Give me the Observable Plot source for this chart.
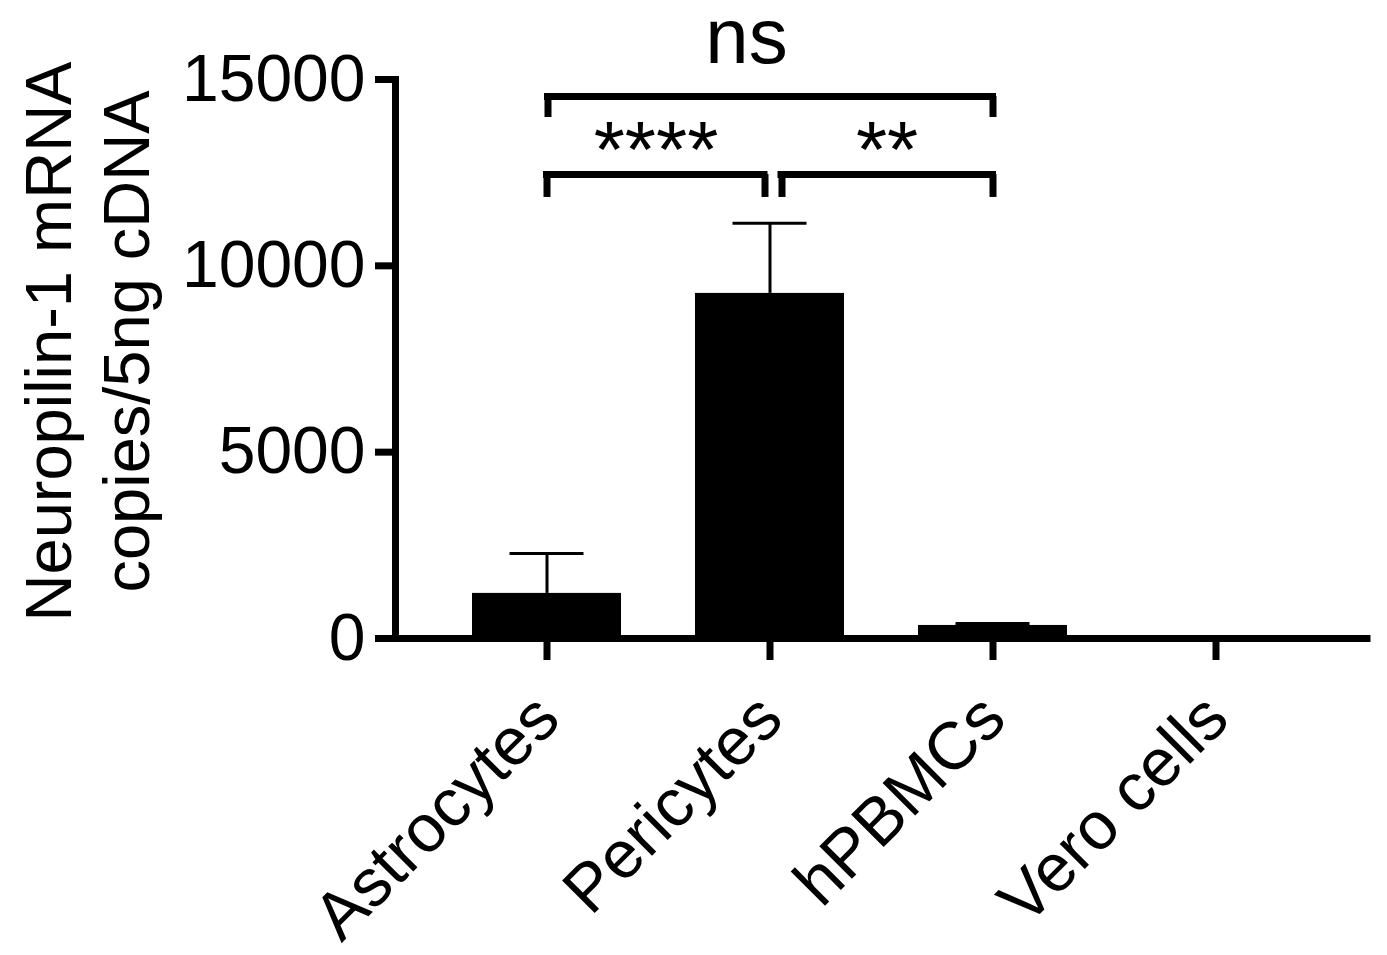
<!DOCTYPE html>
<html><head><meta charset="utf-8">
<script src="https://cdn.jsdelivr.net/npm/d3@7"></script>
<script src="https://cdn.jsdelivr.net/npm/@observablehq/plot@0.6"></script>
<style>
html,body{margin:0;padding:0;background:#fff;}
</style></head><body><div id="chart"></div>
<script>
// ---- data ----
const categories = ["Astrocytes", "Pericytes", "hPBMCs", "Vero cells"];
const means = [1210, 9260, 350, 0];
const errors = [1070, 1880, 50, 0];
const yTicks = [0, 5000, 10000, 15000];
const yTitle = "Neuropilin-1 mRNA\ncopies/5ng cDNA";
const bracketFrom = ["Astrocytes", "Pericytes", "Astrocytes"];
const bracketTo = ["Pericytes", "hPBMCs", "hPBMCs"];
const bracketLevel = [12450, 12450, 14545];
const bracketLegEnd = [11835, 11835, 13980];
const bracketLabel = ["****", "**", "ns"];
const bracketLabelLevel = [13900, 13900, 15430];

// ---- tables ----
const bars = categories.map((c, i) => ({category: c, mean: means[i], top: means[i] + errors[i], err: errors[i]}));
const errs = bars.filter(d => d.err > 0);
const brackets = bracketFrom.map((f, i) => ({from: f, to: bracketTo[i], level: bracketLevel[i], leg: bracketLegEnd[i], label: bracketLabel[i], labelLevel: bracketLabelLevel[i]}));

// pixel tweaks for each bracket (layout only)
const bracketStyle = [
  {insetLeft: 74.5, insetRight: 80, dxL: 0, dxR: -5, textX: "from", textDx: 109, fontSize: 80, lineAnchor: "top"},
  {insetLeft: 86, insetRight: 74.5, dxL: 12, dxR: 0, textX: "from", textDx: 117, fontSize: 80, lineAnchor: "top"},
  {insetLeft: 75.5, insetRight: 74.5, dxL: 1, dxR: 0, textX: "mid", textDx: -23.5, fontSize: 78, lineAnchor: "bottom"}
];

const bracketMarks = brackets.flatMap((b, i) => {
  const s = bracketStyle[i];
  return [
    Plot.ruleY([b], {x1: "from", x2: "to", y: "level", strokeWidth: 7, strokeLinecap: "square", insetLeft: s.insetLeft, insetRight: s.insetRight}),
    Plot.ruleX([b], {x: "from", y1: "leg", y2: "level", strokeWidth: 7, dx: s.dxL}),
    Plot.ruleX([b], {x: "to", y1: "leg", y2: "level", strokeWidth: 7, dx: s.dxR}),
    Plot.text([b], {x: s.textX === "mid" ? () => categories[1] : "from", y: "labelLevel", text: "label", fontSize: s.fontSize, lineAnchor: s.lineAnchor, dx: s.textDx, fill: "black"})
  ];
});

const chart = Plot.plot({
  width: 1387,
  height: 955,
  marginTop: 79,
  marginBottom: 317,
  marginLeft: 395,
  marginRight: 20,
  style: {fontFamily: "'Liberation Sans', Arial, Helvetica, sans-serif", background: "white", color: "black", overflow: "visible"},
  x: {domain: categories, paddingInner: 0.334, paddingOuter: 0.34, label: null},
  y: {domain: [0, 15000], label: null},
  marks: [
    Plot.barY(bars, {x: "category", y: "mean", fill: "black"}),
    Plot.ruleX(errs, {x: "category", y1: "mean", y2: "top", strokeWidth: 3}),
    Plot.tickY(errs, {x: "category", y: "top", strokeWidth: 3, insetLeft: 37.5, insetRight: 37.5}),
    Plot.axisY({ticks: yTicks, tickFormat: d3.format("d"), tickSize: 20, tickPadding: 10, strokeWidth: 7, fontSize: 66, label: null}),
    Plot.axisX({tickSize: 22, strokeWidth: 7, tickFormat: () => "", label: null}),
    Plot.frame({anchor: "left", strokeWidth: 7, strokeLinecap: "square"}),
    Plot.ruleY([0], {strokeWidth: 7, strokeLinecap: "square"}),
    Plot.text(categories, {x: d => d, frameAnchor: "bottom", rotate: -45, textAnchor: "end", lineAnchor: "top", fontSize: 67, dy: 50, dx: -18, fill: "black"}),
    Plot.text([yTitle], {frameAnchor: "left", rotate: -90, fontSize: 65, lineHeight: 1.2, lineAnchor: "top", textAnchor: "middle", dx: -380, dy: -17.5, fill: "black"}),
    ...bracketMarks
  ]
});
document.getElementById("chart").appendChild(chart);
</script>
</body></html>
